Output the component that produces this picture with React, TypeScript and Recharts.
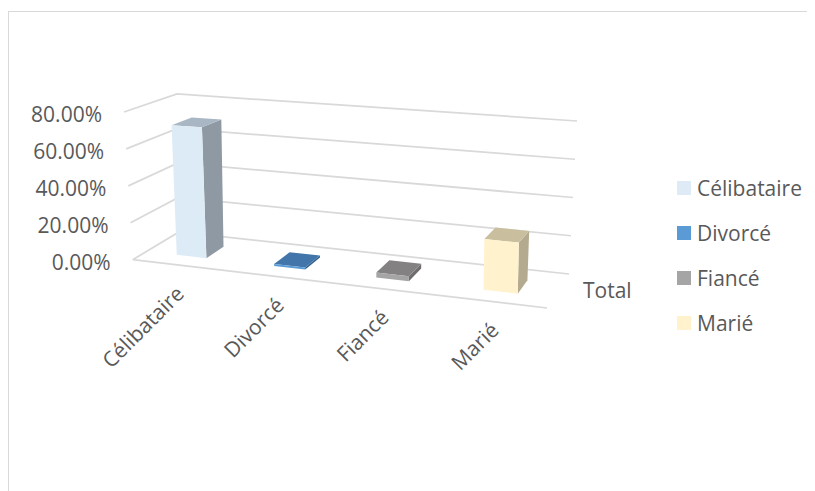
import React from 'react';
import { BarChart, Bar, XAxis, YAxis, CartesianGrid, Legend } from 'recharts';

// ---------- data ----------
const SERIES = ['Célibataire', 'Divorcé', 'Fiancé', 'Marié'];
const VALUES = [71.0, 1.0, 2.6, 25.4];
const CATEGORY = 'Total';
const Y_TICKS = [0, 20, 40, 60, 80];

// ---------- styles ----------
const LEGEND_COLORS = ['#DEEBF7', '#5B9BD5', '#A5A5A5', '#FFF2CC'];
const FACE_COLORS = [
  { front: '#DDEBF7', side: '#8F99A3', top: '#A9B6C3' },
  { front: '#5B9BD5', side: '#2F5F8C', top: '#4275A9' },
  { front: '#A5A5A5', side: '#6F6D6D', top: '#838181' },
  { front: '#FFF2CC', side: '#B4AA8F', top: '#C9BF9F' },
];
const FONT = '"Open Sans", sans-serif';
const FS = 21;
const TEXT = '#595959';
const GRID = '#D9D9D9';

const data = [
  { name: CATEGORY, ...Object.fromEntries(SERIES.map((s, i) => [s, VALUES[i]])) },
];

// ---------- flat layout ----------
const CW = 807;
const CH = 483;
const M = { top: 50, right: 107, bottom: 3, left: 40 };
const YW = 60;
const XH = 30;
const PL = M.left + YW;
const PW = CW - M.right - PL;
const PT = M.top;
const PB = CH - M.bottom - XH;
const PH = PB - PT;
const VMAX = 80;
const ORG = 8;

// ---------- 3D projection (u across, v value, w depth) ----------
const K = 0.1;
const C: Record<string, number[]> = {
  fl0: [132.7, 259.7], fl1: [124, 112],
  bl0: [179, 232], bl1: [177, 94],
  br0: [569, 274], br1: [577, 121],
  fr0: [547, 308], fr1: [550, 141],
};
const lerp = (a: number[], b: number[], t: number) => [a[0] + (b[0] - a[0]) * t, a[1] + (b[1] - a[1]) * t];
function P(u: number, v: number, w: number): number[] {
  const t = v / VMAX;
  const uu = u / (1 + K * (1 - u));
  const FL = lerp(C.fl0, C.fl1, t);
  const BL = lerp(C.bl0, C.bl1, t);
  const FR = lerp(C.fr0, C.fr1, t);
  const BR = lerp(C.br0, C.br1, t);
  const L = lerp(FL, BL, w);
  const R = lerp(FR, BR, w);
  const p = lerp(L, R, uu);
  return [p[0] - ORG, p[1] - ORG];
}
const pts = (arr: number[][]) => arr.map((p) => `${p[0].toFixed(2)},${p[1].toFixed(2)}`).join(' ');

const gridLine = (props: any) => {
  const v = ((PB - props.y1) / PH) * VMAX;
  const a = P(0, v, 0);
  const b = P(0, v, 1);
  const c = P(1, v, 1);
  let d = `M${a[0]},${a[1]}L${b[0]},${b[1]}L${c[0]},${c[1]}`;
  if (Math.abs(v) < 0.01) {
    const f = P(1, 0, 0);
    d += `M${a[0]},${a[1]}L${f[0]},${f[1]}`;
  }
  return <path key={`g-${props.index}`} d={d} fill="none" stroke={GRID} strokeWidth={1.75} />;
};

const W0 = 0.3;
const W1 = 0.7;
const makeShape = (i: number) => (props: any) => {
  const { x, y, width } = props;
  const u0 = (x - PL) / PW;
  const u1 = (x + width - PL) / PW;
  const v = ((PB - y) / PH) * VMAX;
  const c = FACE_COLORS[i];
  const front = [P(u0, 0, W0), P(u1, 0, W0), P(u1, v, W0), P(u0, v, W0)];
  const side = [P(u1, 0, W0), P(u1, 0, W1), P(u1, v, W1), P(u1, v, W0)];
  const top = [P(u0, v, W0), P(u1, v, W0), P(u1, v, W1), P(u0, v, W1)];
  const [lx0, ly0] = P((u0 + u1) / 2, 0, 0);
  const lx = lx0 + 7;
  const ly = ly0 + 30;
  return (
    <g>
      <polygon points={pts(side)} fill={c.side} />
      <polygon points={pts(top)} fill={c.top} />
      <polygon points={pts(front)} fill={c.front} />
      <text
        x={lx}
        y={ly}
        transform={`rotate(-45 ${lx} ${ly})`}
        textAnchor="end"
        fill={TEXT}
        fontSize={FS}
        fontFamily={FONT}
      >
        {SERIES[i]}
      </text>
    </g>
  );
};

const YTick = (props: any) => {
  const v = props.payload.value;
  const [x, y] = P(0, v, 0);
  return (
    <text x={x - 22} y={y + 2} textAnchor="end" dominantBaseline="central" fill={TEXT} fontSize={FS} fontFamily={FONT}>
      {`${Number(v).toFixed(2)}%`}
    </text>
  );
};

const XTick = (props: any) => {
  const [x, y] = P(1, 0, 0.5);
  return (
    <text x={x + 25} y={y + 7} textAnchor="start" fill={TEXT} fontSize={FS} fontFamily={FONT}>
      {props.payload.value}
    </text>
  );
};

const LegendContent = (props: any) => {
  const payload = props.payload || [];
  return (
    <div>
      {payload.map((e: any) => (
        <div key={e.value} style={{ display: 'flex', alignItems: 'center', height: 45 }}>
          <span style={{ display: 'inline-block', width: 14, height: 14, background: e.color, marginRight: 6 }} />
          <span style={{ fontFamily: FONT, fontSize: FS, color: TEXT, lineHeight: '21px' }}>{e.value}</span>
        </div>
      ))}
    </div>
  );
};

export default function App() {
  return (
    <div style={{ position: 'relative', width: CW, height: CH }}>
      <div
        style={{
          position: 'absolute',
          left: 0,
          top: 3,
          width: 807,
          height: 480,
          borderTop: '1px solid #D9D9D9',
          borderLeft: '1px solid #D9D9D9',
          boxSizing: 'border-box',
        }}
      />
      <div style={{ position: 'absolute', left: 0, top: 0 }}>
        <BarChart
          width={CW}
          height={CH}
          data={data}
          margin={M}
          barCategoryGap="8.1%"
          barGap="17.5%"
        >
          <CartesianGrid vertical={false} horizontal={gridLine} />
          <XAxis dataKey="name" height={XH} axisLine={false} tickLine={false} tick={XTick} />
          <YAxis
            width={YW}
            domain={[0, VMAX]}
            ticks={Y_TICKS}
            axisLine={false}
            tickLine={false}
            tick={YTick}
          />
          <Legend
            layout="vertical"
            align="center"
            verticalAlign="middle"
            content={LegendContent}
            wrapperStyle={{ left: 669, top: 157.5, width: 'auto' }}
          />
          {SERIES.map((s, i) => (
            <Bar key={s} dataKey={s} name={s} fill={LEGEND_COLORS[i]} isAnimationActive={false} shape={makeShape(i)} />
          ))}
        </BarChart>
      </div>
    </div>
  );
}
